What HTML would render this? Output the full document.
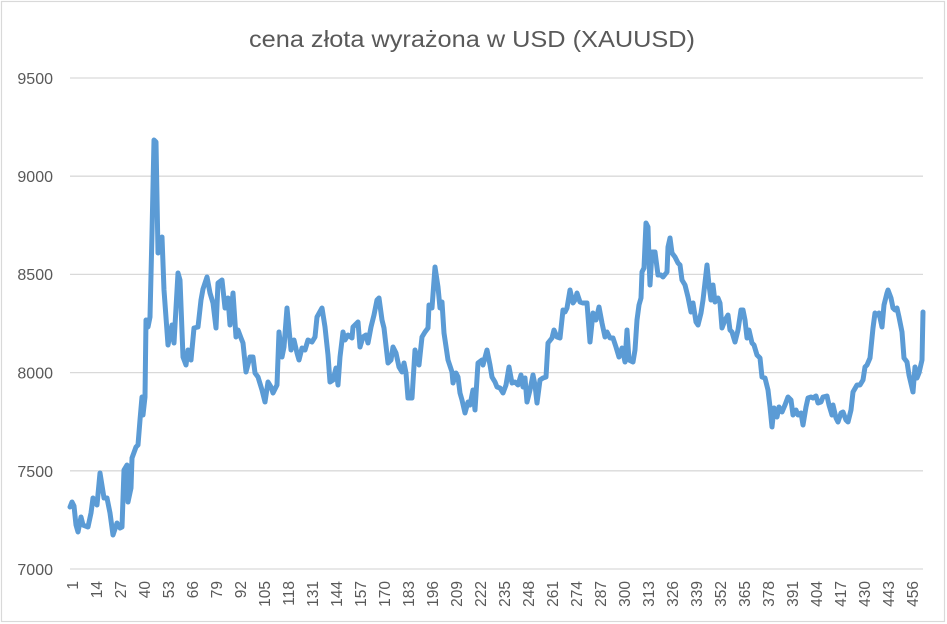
<!DOCTYPE html>
<html><head><meta charset="utf-8"><style>
html,body{margin:0;padding:0;background:#fff;}
svg{display:block;}
text{font-family:"Liberation Sans",sans-serif;fill:#595959;}
</style></head><body>
<svg width="947" height="624" viewBox="0 0 947 624" xmlns="http://www.w3.org/2000/svg">
<rect x="1.5" y="1.5" width="943" height="620" fill="#fff" stroke="#d9d9d9" stroke-width="1.2"/>
<text x="472" y="47" font-size="23.5" text-anchor="middle" textLength="446" lengthAdjust="spacingAndGlyphs">cena złota wyrażona w USD (XAUUSD)</text>
<g stroke="#d9d9d9" stroke-width="1.3">
<line x1="70" y1="78" x2="923" y2="78"/>
<line x1="70" y1="176.2" x2="923" y2="176.2"/>
<line x1="70" y1="274.4" x2="923" y2="274.4"/>
<line x1="70" y1="372.6" x2="923" y2="372.6"/>
<line x1="70" y1="470.8" x2="923" y2="470.8"/>
<line x1="70" y1="569" x2="923" y2="569"/>
</g>
<g font-size="16" text-anchor="end">
<text x="53" y="84">9500</text>
<text x="53" y="182">9000</text>
<text x="53" y="280">8500</text>
<text x="53" y="378.5">8000</text>
<text x="53" y="477">7500</text>
<text x="53" y="575">7000</text>
</g>
<polyline fill="none" stroke="#5b9bd5" stroke-width="5" stroke-linejoin="round" stroke-linecap="round" points="
70,507 72,502 74,506 76,525 78,532 81,517 83,525 88,527 91,513 93,498 97,505 100,473 104,498 107,498 110,513 113,535 117,523 120,528 122,527 124,470 127,465 128,502 131,488 132,458 136,447 138,445 140,420 142,397 143,415 145,397 146,320 148,327 150,317 152,233 154,140 156,142 158,253 160,245 162,237 164,290 168,345 170,335 172,325 174,343 178,273 180,280 183,357 186,365 188,350 191,360 194,328 198,327 201,300 203,289 207,277 210,293 213,303 216,328 218,283 222,280 225,308 228,298 230,325 233,293 236,337 238,330 241,338 243,343 246,372 250,357 253,357 255,373 258,377 262,390 265,402 268,382 271,387 273,393 277,385 279,332 282,357 284,347 287,308 291,350 294,340 297,353 299,360 302,348 305,350 308,340 312,342 315,337 317,317 322,308 325,327 328,355 330,382 333,380 336,368 338,385 340,357 343,332 345,340 348,335 352,338 353,327 358,322 360,347 363,337 366,335 368,343 371,327 374,315 377,300 379,298 382,320 384,328 388,363 391,360 393,347 396,353 399,367 402,372 404,363 406,373 408,398 412,398 415,350 419,365 422,337 425,332 428,328 429,305 432,308 435,267 438,287 440,308 442,302 444,333 448,360 452,372 453,383 456,373 458,377 460,393 462,400 465,413 468,402 470,405 473,390 475,410 478,363 482,360 483,365 487,350 490,365 492,377 495,382 497,387 500,388 503,393 506,385 509,367 512,383 515,382 518,385 521,375 523,387 525,378 527,402 530,390 533,375 535,385 537,403 540,380 543,378 546,377 548,343 552,338 554,330 557,337 560,338 563,310 565,312 567,308 570,290 573,303 575,300 577,293 580,302 583,303 587,303 590,342 593,313 596,320 599,307 602,323 605,337 607,332 610,338 613,338 616,347 619,357 622,348 625,362 627,330 629,360 633,362 635,350 637,320 639,305 641,298 642,272 644,268 646,223 648,227 649,260 650,285 652,252 655,252 658,275 661,275 663,277 667,272 668,247 670,238 672,253 675,257 678,263 680,265 682,280 685,285 688,297 691,312 693,303 696,322 698,325 701,313 703,300 707,265 709,285 711,300 713,285 715,302 718,298 720,303 722,328 725,320 728,315 730,330 732,332 735,342 738,330 741,310 743,310 745,320 747,338 749,330 752,343 754,345 757,355 760,358 762,377 765,378 768,390 770,407 772,427 774,408 777,417 779,407 782,412 785,405 788,397 791,400 793,415 796,410 798,415 801,413 803,425 806,407 808,398 811,397 813,398 816,396 818,403 821,402 823,397 827,396 829,405 832,415 833,405 836,418 838,422 841,413 843,412 846,420 848,422 851,410 853,392 857,385 860,385 863,380 865,367 867,365 870,358 873,328 875,313 877,315 879,313 882,327 884,305 887,293 888,290 891,298 893,308 895,310 897,308 899,317 902,332 904,358 907,362 909,375 913,392 915,367 917,378 919,373 922,360 923,312"/>
<g font-size="15.5" text-anchor="end">
<text transform="translate(78,581) rotate(-90)">1</text>
<text transform="translate(102,581) rotate(-90)">14</text>
<text transform="translate(126,581) rotate(-90)">27</text>
<text transform="translate(150,581) rotate(-90)">40</text>
<text transform="translate(174,581) rotate(-90)">53</text>
<text transform="translate(198,581) rotate(-90)">66</text>
<text transform="translate(222,581) rotate(-90)">79</text>
<text transform="translate(246,581) rotate(-90)">92</text>
<text transform="translate(270,581) rotate(-90)">105</text>
<text transform="translate(294,581) rotate(-90)">118</text>
<text transform="translate(318,581) rotate(-90)">131</text>
<text transform="translate(342,581) rotate(-90)">144</text>
<text transform="translate(366,581) rotate(-90)">157</text>
<text transform="translate(390,581) rotate(-90)">170</text>
<text transform="translate(414,581) rotate(-90)">183</text>
<text transform="translate(438,581) rotate(-90)">196</text>
<text transform="translate(462,581) rotate(-90)">209</text>
<text transform="translate(486,581) rotate(-90)">222</text>
<text transform="translate(510,581) rotate(-90)">235</text>
<text transform="translate(534,581) rotate(-90)">248</text>
<text transform="translate(558,581) rotate(-90)">261</text>
<text transform="translate(582,581) rotate(-90)">274</text>
<text transform="translate(606,581) rotate(-90)">287</text>
<text transform="translate(630,581) rotate(-90)">300</text>
<text transform="translate(654,581) rotate(-90)">313</text>
<text transform="translate(678,581) rotate(-90)">326</text>
<text transform="translate(702,581) rotate(-90)">339</text>
<text transform="translate(726,581) rotate(-90)">352</text>
<text transform="translate(750,581) rotate(-90)">365</text>
<text transform="translate(774,581) rotate(-90)">378</text>
<text transform="translate(798,581) rotate(-90)">391</text>
<text transform="translate(822,581) rotate(-90)">404</text>
<text transform="translate(846,581) rotate(-90)">417</text>
<text transform="translate(870,581) rotate(-90)">430</text>
<text transform="translate(894,581) rotate(-90)">443</text>
<text transform="translate(918,581) rotate(-90)">456</text>
</g>
</svg>
</body></html>
